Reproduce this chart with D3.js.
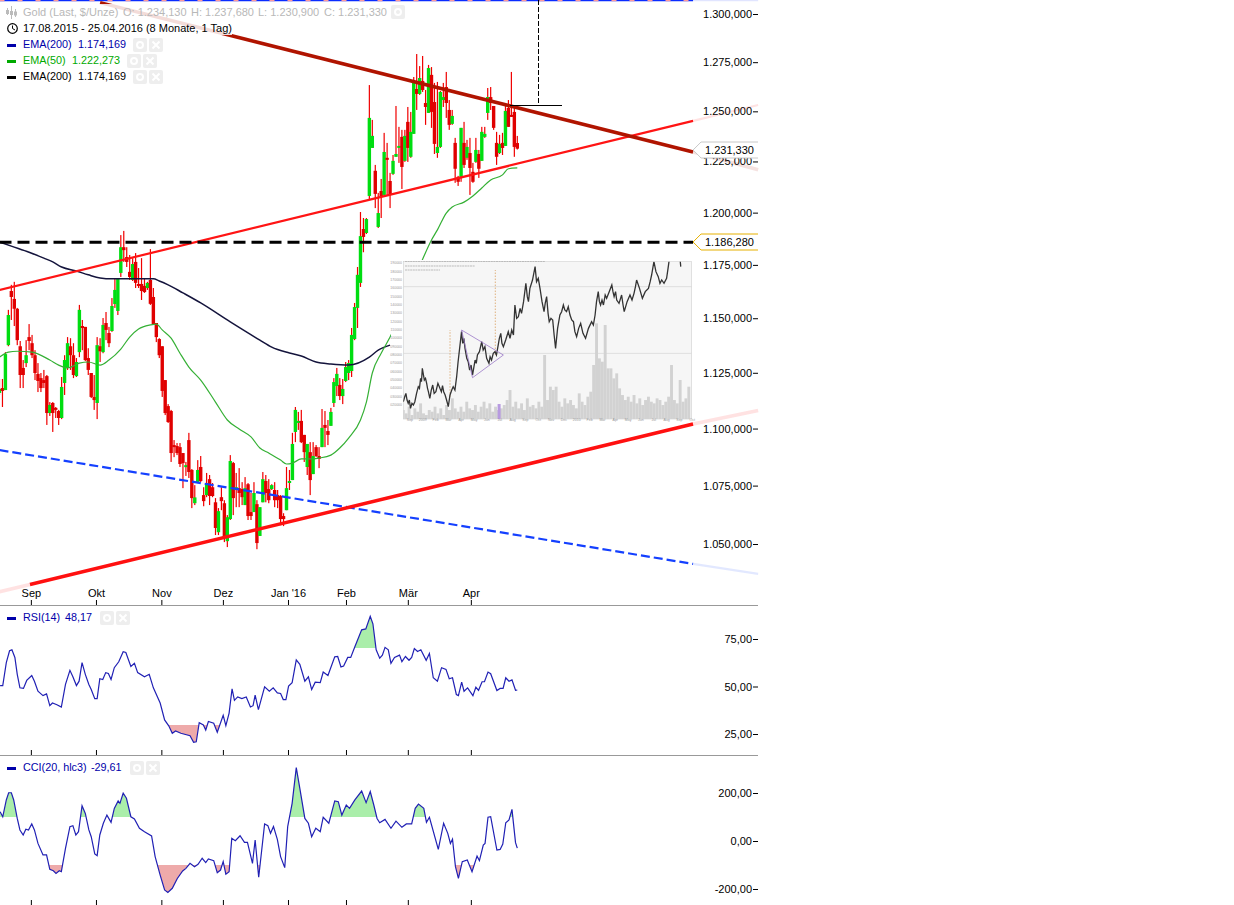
<!DOCTYPE html>
<html>
<head>
<meta charset="utf-8">
<title>Gold</title>
<script src="https://cdn.jsdelivr.net/npm/d3@7"></script>
<style>
    body { margin: 0; background: #fff; }
    svg { display: block; font-family: "Liberation Sans", Arial, sans-serif; font-size: 11px; }
    .axis path { display: none; }
    .axis line { stroke: #000; }
    .axis text { fill: #000; font-size: 11px; }
</style>
</head>
<body>
<svg id="chart" width="1234" height="905"></svg>
<script>
// Candles, one entry per trading day
const highs = [
    1122.2,1122.2,1134.4,1153.9,1165.6,1167,1154.8,1139.5,1130.8,1139.9,
    1147.3,1142.3,1135.3,1129.4,1124.9,1126.3,1124,1111.8,1111.8,1109.6,
    1108.3,1123.1,1133,1141.3,1140.8,1138.5,1131.7,1156.2,1149.2,1146,
    1136.2,1124.9,1124,1141.3,1140.8,1150.1,1152.9,1146,1159.4,1168.4,
    1168.4,1189.2,1191.2,1183.4,1179.7,1178.2,1180.6,1173.5,1178.2,1168.8,
    1167,1182.5,1164.1,1147.8,1140.8,1137.1,1121.7,1110.9,1108.3,1094.9,
    1093.6,1093.6,1089.2,1085.3,1098.1,1082.2,1075.2,1086.1,1087.9,1074.3,
    1080.5,1079.6,1076.1,1069.6,1065.3,1074.3,1068.7,1062.3,1088.3,1085.3,
    1080.5,1082.6,1076.5,1078.7,1076.1,1071.8,1076.5,1068.7,1065.7,1080.9,
    1079.6,1077.8,1075.6,1076.5,1073.1,1070.9,1063.1,1083.1,1081.8,1098.1,
    1109.6,1107.4,1108.3,1097.2,1093.2,1094,1094,1092.7,1091.8,1108.7,
    1107.8,1103.8,1109.2,1122.6,1127.2,1122.6,1122.2,1129.9,1130.8,1145.5,
    1157.1,1174,1200.3,1197.4,1197.4,1263.3,1245.7,1223.3,1209.6,1216.4,
    1239.2,1234.2,1219.4,1228.2,1252.7,1242.2,1240.7,1240.7,1252.2,1249.7,
    1267.4,1279.2,1273,1278.2,1260.8,1273.6,1272.5,1264.4,1264.9,1260.3,
    1264.4,1270,1255.7,1250.7,1236.7,1217.9,1241.7,1244.7,1235.7,1236.7,
    1224.3,1236.7,1230.7,1242.2,1242.2,1261.8,1262.3,1252.7,1239.7,1238.2,
    1239.2,1253.2,1255.7,1270,1252.2,1237.68
];
const opens = [
    1115.9,1118.1,1117.2,1137.6,1162.7,1159,1154.4,1137.1,1127.2,1129.4,
    1141.3,1138.5,1133,1124.5,1122.6,1121.7,1123.5,1106.9,1111.4,1109.2,
    1107.8,1104.7,1120.4,1127.2,1137.1,1133,1123.5,1134.4,1146.4,1146,
    1131.7,1124.9,1114.1,1111.4,1137.1,1134.4,1147.8,1143.2,1144.1,1156.6,
    1153.4,1171.2,1183.4,1178.7,1171.7,1167.9,1176.4,1166,1166,1165.1,
    1164.1,1167.9,1159.9,1147.8,1140.4,1137.1,1121.7,1110,1107.8,1092.7,
    1092.3,1091.8,1089.2,1083.5,1094.9,1081.8,1067.4,1076.5,1083.1,1070.9,
    1070.9,1077.8,1074.3,1067.8,1055,1070,1067.4,1051.2,1060.6,1084.8,
    1073.1,1073.9,1073.5,1066.6,1075.6,1063.6,1063.6,1067,1053.4,1067.8,
    1077,1073.5,1073.5,1073.1,1070.9,1070.5,1061.9,1064.4,1076.5,1077.4,
    1098.5,1102.5,1103.4,1097.2,1083.1,1089.6,1080,1091.8,1087.9,1091.8,
    1101.6,1098.9,1101.2,1111.4,1119,1119.5,1114.5,1121.3,1124.9,1125.8,
    1140.4,1154.8,1166.5,1192.1,1190.2,1208.1,1231.7,1220.4,1193.1,1210.5,
    1208.6,1226.8,1215.4,1218.9,1227.3,1232.2,1237.2,1225.3,1244.7,1227.3,
    1238.7,1261.3,1258.8,1265.4,1254.2,1249.2,1268.5,1254.7,1229.2,1232.2,
    1255.7,1262.3,1250.7,1243.7,1234.2,1217.4,1217.4,1234.2,1226.8,1229.2,
    1219.9,1224.8,1228.7,1225.3,1237.2,1249.2,1257.2,1252.7,1234.2,1229.2,
    1234.2,1232.7,1251.7,1248.2,1249.7,1234.13
];
const closes = [
    1117.7,1116.8,1133.5,1151.5,1159.9,1154.4,1139.9,1124,1124,1133,
    1139.5,1133,1124.9,1121.3,1118.1,1120.4,1106.9,1110.5,1106.9,1108.3,
    1104.7,1118.6,1130.8,1138.5,1133,1124,1129.9,1153.9,1145.5,1130.8,
    1126.3,1114.1,1112.7,1137.6,1134.8,1146.9,1144.6,1138.5,1155.7,1163.2,
    1168.4,1183.4,1182,1176.4,1169.3,1175.4,1166.5,1165.1,1162.7,1162.2,
    1166.5,1156.7,1147.3,1141.3,1133,1116.8,1106.9,1102.9,1089.2,1091.8,
    1089.2,1084.4,1084.8,1083.9,1080.9,1069.6,1069.9,1081.8,1077,1068.3,
    1076.1,1070.5,1070.5,1056.8,1064,1068.3,1053,1061.4,1085.7,1069.6,
    1074.3,1071.8,1070,1073.9,1061.9,1061.9,1071.8,1050.4,1065.7,1077.8,
    1071.8,1068.7,1075.2,1068.7,1068.7,1060.6,1060.6,1073.9,1077,1093.2,
    1108.3,1103.4,1094,1089.6,1093.2,1077.4,1087.9,1087.9,1086.6,1100.3,
    1100.3,1097.2,1107.4,1120.8,1124.5,1114.5,1117.7,1127.6,1129.4,1142.3,
    1155.2,1170.3,1188.7,1188.3,1196.9,1246.7,1237.7,1209.1,1199.8,1207.6,
    1229.7,1225.8,1208.6,1225.3,1228.7,1232.7,1222.3,1237.7,1231.7,1239.7,
    1264.4,1258.8,1266.9,1260.8,1252.2,1272,1249.7,1233.7,1232.2,1259.8,
    1257.2,1254.2,1243.2,1247.7,1221.4,1215,1241.7,1223.3,1232.2,1221.8,
    1215,1230.7,1221.4,1239.7,1238.7,1257.2,1254.2,1241.7,1227.3,1233.7,
    1231.7,1250.2,1242.2,1247.2,1232.2,1231.33
];
const lows = [
    1115,1109.6,1117.2,1137.1,1149.2,1146.4,1137.6,1118.1,1118.1,1127.6,
    1135.3,1131.7,1121.7,1116.3,1116.3,1118.1,1101.6,1105.6,1098.5,1104.7,
    1101.6,1104.2,1115,1126.3,1126.3,1122.6,1123.1,1132.1,1135.3,1130.3,
    1124,1113.6,1108.3,1104.2,1129.9,1133.9,1139.9,1136.7,1143.7,1154.8,
    1151.5,1169.3,1176.4,1174,1167.9,1167.4,1164.1,1164.1,1158.5,1161.8,
    1163.2,1156.2,1146.9,1139,1131.7,1114.1,1106,1102.5,1085.3,1087.4,
    1088.3,1083.1,1073.9,1079.2,1078.3,1065.3,1066.6,1076.1,1076.5,1066.1,
    1070,1066.6,1070,1053.8,1053.8,1064.4,1050.8,1048.7,1060.2,1062.3,
    1065.7,1065.7,1066.6,1066.6,1060.2,1060.2,1063.6,1047.8,1053.4,1067.8,
    1067.8,1067.4,1073.1,1065.7,1065.3,1058,1057.6,1064.4,1073.1,1077.4,
    1094,1099.4,1093.6,1085.3,1079.6,1070.9,1080,1087.4,1082.6,1091.8,
    1091.8,1092.7,1101.2,1109.6,1114.5,1112.7,1110.9,1120.8,1121.7,1123.1,
    1139.9,1145.5,1164.6,1181,1189.7,1206.1,1231.7,1202.2,1192.6,1197.4,
    1208.1,1208.6,1202.2,1218.4,1227.3,1224.3,1211.5,1224.8,1224.8,1226.8,
    1238.7,1250.7,1258.3,1259.8,1243.2,1249.2,1241.7,1228.7,1226.8,1231.7,
    1252.2,1246.7,1240.7,1243.2,1214.5,1213,1215,1221.8,1225.8,1208.6,
    1214.5,1224.3,1216.9,1225.3,1236.7,1245.7,1250.7,1240.7,1223.3,1228.7,
    1228.2,1232.7,1242.2,1247.2,1227.3,1230.9
];

// Moving averages, read at the bars where they could be seen
const ema50Bars = [0,3,6,11,17,20,23,27,30,34,37,41,44,47,51,53,55,58,61,64,68,73,77,81,85,88,91,95,97,99,102,105,108,112,115,118,122,124,126,129,132,143,146,148,151,153,157,160,163,166,170,172,175];
const ema50Values = [1132.1,1134.4,1134.8,1134.4,1130.8,1128.5,1127.2,1129.4,1129.9,1128.5,1130.8,1135.8,1141.3,1145,1146.9,1147.3,1144.6,1140.8,1133.9,1127.6,1121.7,1111.8,1103.8,1099.8,1096.3,1091.4,1089.2,1086.1,1084.4,1084.8,1086.6,1086.6,1087,1088.3,1091.4,1095.8,1103.8,1111.8,1124.9,1133.9,1141.3,1177.7,1186.8,1191.7,1199.8,1202.7,1205.1,1208.1,1212,1215.9,1218.4,1221.4,1221.8];
const ema200Bars = [0,4,10,15,18,21,26,30,34,38,43,47,52,54,57,62,68,78,88,92,98,102,107,112,118,125,128,132];
const ema200Values = [1185.9,1183.9,1181,1178.2,1176.4,1174,1172.1,1170.3,1168.8,1168.4,1168.4,1168.4,1168.4,1167.4,1165.6,1161.8,1157.1,1148.3,1139.9,1136.7,1134,1132.6,1129.9,1129,1128.5,1132.1,1135.3,1137.6];

// Trend lines as [bar, price] end points, drawn solid up to lastBar and pale beyond
const lastBar = 234.4;
const farBar = 256.4;
const resistance = [[34, 1306], [lastBar, 1229.7], [farBar, 1220.9]];
const upperSupport = [[0, 1163.2], [lastBar, 1245.2], [farBar, 1253.2]];
const lowerSupport = [[10.3, 1033], [lastBar, 1102], [farBar, 1108]];
const lowerSupportStart = [0, 1030];
const blueTrend = [[0, 1090.5], [lastBar, 1041.6], [farBar, 1037.4]];
const topLevel = 1307.4;
const goldLevel = 1186.28;
const lastClose = 1231.33;
const targetBar = 182;
const targetPrice = 1252.7;
const targetFrom = 172.5;
const targetTo = 190;

// RSI and CCI panels
const rsiBars = [0.2,1.1,2.3,3.4,4.2,5.2,6,6.9,8.1,9.2,10.9,11.8,13,14.7,15.9,17,17.9,19.4,20.9,22.3,23.8,24.8,26,26.9,27.9,29,30.2,31,32.2,33,33.9,34.9,35.9,36.8,37.7,38.8,40.3,41.8,42.7,44.4,45.6,46.7,49,50.6,52,54.3,55.8,57.2,58.4,59.5,61.3,64.4,65.6,66.5,67.5,68.9,69.7,70.6,72.4,73.6,75.6,76.5,77.6,78.6,79.4,80.5,81.9,83.4,84.8,85.7,86.4,87.5,89.6,91.2,92.5,93.9,95,95.9,96.8,97.7,98.9,100.3,101.5,103.2,104.4,105.5,106.7,108.4,109.4,111,113.3,114.3,115.4,116.3,117.7,118.7,120.1,122.4,123.8,125.3,126.2,127.3,128.5,129.4,130.3,131.4,132.3,133.5,135.2,136,137.2,138.4,139.3,140.2,141.3,142.4,144.2,145.3,146.6,148,149.4,150.9,152,153.1,154.4,155.1,156.2,157,158.2,160,161,161.9,163.1,163.9,165.1,166,168.1,169.2,170.2,171.1,172.2,173.2,174.4,175];
const rsiValues = [50.5,50.5,62.6,68.8,69.3,65.3,56.4,49.3,49,53.2,55.8,52.8,47.5,45.2,46.1,39.9,41.3,40.4,39.2,51.1,58.5,55.1,50.5,52.8,62.6,56.4,51.1,48.4,43.6,43.6,54.1,53.7,57.3,56.9,53.7,59.9,63,68.3,67.9,60.5,62.2,57.3,55.1,56.4,49.3,41.3,32.4,29.3,25.4,26.6,25.4,24.1,20.6,20.9,31,29.8,27.1,31.6,30.7,25.9,34.8,29.4,36,48.8,42.7,44.5,43.6,44.5,39.2,39.9,45.4,37.8,49.8,47.5,49.3,46.6,46.3,43.1,43.1,50.2,52,64,61.7,52.8,55.1,48.4,52.3,52,57.6,55.8,65.6,65.8,60.3,60.8,65.3,65.3,70.9,79.8,80.3,86.9,83,69.3,64.9,66.5,70.6,69.3,62.2,65.3,66.5,63.1,65.8,63.8,65.3,70,68.4,69.3,63.8,67.4,54.6,52.8,59.9,59,54.1,54.6,45.8,45.2,52.3,47.5,49.3,45.2,49.6,48,52.5,52.5,57.6,56.7,47.9,49,49,54.6,52.8,53.5,48,48.17];
const cciBars = [0.2,1.1,2.3,3.1,4,4.8,6,6.9,8,8.9,9.8,10.9,11.8,13,14.7,15.9,17,18.2,19.1,20.2,20.9,22.3,23.8,24.8,25.8,26.7,27.9,29,30.2,31,32.2,33,33.9,35.1,36.3,37.7,38.8,40.1,40.7,41.8,42.9,44.4,45.6,47.3,49,51.4,52.6,54.3,55.8,56.9,58.4,60.1,61.9,63,64.4,65.9,67.1,68.5,69.7,70.6,72.4,73.6,74.7,75.6,76.5,77.6,78.5,79.7,81.3,82.8,83.8,85.5,86.4,87.6,89.6,90.7,91.6,92.6,93.9,95,96.4,97.4,98.9,100.3,101.5,103.2,104.4,105.5,106.9,108.4,109.4,111.3,113.3,114.5,115.7,117.2,118.3,120.1,122.4,123.9,125.3,126.5,127.6,128.5,130.3,132.3,134,136,137.5,139.3,140.5,141.6,143.4,144.3,145.3,148.3,150.1,151.5,152.4,153.1,154.1,155.1,156.4,158.1,159.7,161.4,162.2,163.5,164.1,165.1,166,168.1,169.2,170.1,171.1,172.2,173.2,174.4,175];
const cciValues = [122,101,171,201,201,171,94,46,25,49,46,71,46,-10,-58,-58,-118,-124,-135,-124,-128,-31,60,64,25,39,147,115,46,18,-54,-61,25,74,108,78,136,167,157,199,178,101,92,53,39,21,-65,-142,-204,-214,-197,-156,-125,-114,-93,-107,-97,-72,-90,-75,-82,-132,-121,-86,-138,-128,11,1,22,-6,-6,-93,4,-151,71,64,32,60,7,-65,-111,60,157,306,219,94,74,18,53,39,99,74,167,164,108,150,136,171,208,160,206,150,94,76,90,53,83,57,71,71,136,154,136,78,99,-35,74,32,-10,8,-107,-156,-86,-79,-128,-63,-82,-17,-10,99,101,-38,-35,-13,76,88,132,-7,-29.61];

// Axis labels
const monthBars = [10.6, 32.6, 54.7, 75.5, 97.5, 117.1, 138, 159.3];
const monthLabels = ['Sep', 'Okt', 'Nov', 'Dez', "Jan '16", 'Feb', 'Mär', 'Apr'];
const priceTicks = [1050, 1075, 1100, 1125, 1150, 1175, 1200, 1225, 1250, 1275, 1300];
const rsiTicks = [25, 50, 75];
const cciTicks = [-200, 0, 200];

// Small pasted chart, positions and values both on a 0-100 scale
const insetPos = [0,0.5,0.9,1.3,1.7,2.1,2.5,3,3.5,4,4.6,5.2,5.6,6,6.3,6.6,7,7.3,7.7,8.1,8.4,8.7,9.2,9.7,10.2,10.7,11.3,12,12.7,13.2,13.6,14,14.5,15,15.6,16.2,16.8,17.3,17.9,18.5,19,19.6,20.2,20.6,21,21.4,22,22.5,23,23.5,24,24.5,24.9,25.3,25.7,26.4,27.2,27.7,28.3,28.9,29.7,30.1,30.6,31.2,31.8,32.3,32.9,33.3,33.8,34.2,34.7,35.5,36.4,37,37.6,38.2,38.7,39.3,39.9,40.5,41,41.7,42.5,43,43.4,43.9,44.8,45.7,46.2,46.8,47.4,48.1,48.8,49.2,49.7,50.2,50.6,51.2,51.8,52.3,52.8,53.5,54.3,54.9,55.5,56,56.6,57.2,57.8,58.4,59,59.5,60.1,60.8,61.5,62.3,63.2,64.2,65.3,65.9,66.5,67,67.6,68,68.4,68.9,69.4,70,70.5,71.4,72.3,72.7,73.1,73.6,74,74.8,75.7,76.2,76.6,77.6,78.6,79.3,80,80.5,80.9,81.9,82.9,83.9,85,85.6,86.1,86.9,87.6,88.4,89,89.6,90.4,91.3,91.8,92.2,93.6,95.7,96,96.2];
const insetValue = [12,15,17,13,11,13,8,11,10,12,17,21,20,26,24,32,28,25,26,23,20,18,14,19,22,17,18,23,20,18,21.6,18,16,13,9,16,19,21,19,27,36,45,54,47,50,44,38,36,31,34,28,33,37,35,40,42,48,43,45,38,35,39,37,41,42,40,46,50,53,47,45,49,54,50,55,52,70,62,63,68,65,72,83,75,72,80,85,93,84,86,80,72,66,71,75,65,60,62,61,52,44,56,64,66,70,67,66,69,64,61,60,54,51,56,59,53,50,56,60,58,64,72,78,72,70,73,70,76,74,78,82,78,75,78,73,71,76,70,66,72,76,73,77,81,85,80,74,78,80,84,88,96,90,87,83,85,83,86,92,97,101,101,97,93];
const insetVolume = [7,5,9,4,8,6,11,5,4,7,6,9,5,8,4,10,7,14,8,6,9,6,12,8,7,10,6,9,12,8,11,6,9,7,8,10,13,19,9,12,8,11,7,14,9,10,8,12,9,40,13,21,19,21,12,9,14,11,13,10,8,17,12,10,15,18,34,59,38,36,58,32,32,26,29,20,16,13,15,12,16,11,14,10,13,15,12,11,14,13,10,12,15,34,13,11,25,12,14,21];
const insetTriangle = [[20.2, 55], [34.7, 40], [24, 26.4]];
const insetGuides = [[16.2, 15, 55], [31.9, 40, 91]];
const insetGrid = [41, 81];
const insetMonths = ['Sep', '2009', 'Feb', 'Mar', 'Apr', 'May', 'Jun', 'Jul', 'Aug', 'Sep', 'Oct', 'Nov', 'Dec', '2010', 'Feb', 'Mar', 'Apr', 'May', 'Jun', 'Jul', 'Aug', 'Sep', 'Oct'];
const insetLevels = [95, 90, 85, 80, 75, 70, 65, 60, 55, 50, 45, 40, 35, 30, 25, 20, 15, 10];

const svg = d3.select('#chart');
const germanLocale = d3.formatLocale({ decimal: ',', thousands: '.', grouping: [3], currency: ['', ''], minus: '-' });
const priceFormat = germanLocale.format(',.3f');
const panelFormat = germanLocale.format('.2f');

// Scales
const x = d3.scaleLinear().domain([0, 175]).range([-0.5, 517.3]);
const y = d3.scaleLog().domain([1050, 1300]).range([544, 14]);
const yRsi = d3.scaleLinear().domain([25, 75]).range([734, 639]);
const yCci = d3.scaleLinear().domain([-200, 200]).range([889, 793]);

function drawCandles() {
    const g = svg.append('g');
    const bars = d3.range(highs.length);
    g.selectAll('rect.wick').data(bars).enter().append('rect')
        .attr('class', 'wick')
        .attr('x', i => x(i) - 0.6)
        .attr('width', 1.2)
        .attr('y', i => y(highs[i]))
        .attr('height', i => y(lows[i]) - y(highs[i]))
        .attr('fill', '#f00000');
    g.selectAll('rect.body').data(bars).enter().append('rect')
        .attr('class', 'body')
        .attr('x', i => x(i) - 1.7)
        .attr('width', 3.4)
        .attr('y', i => y(Math.max(opens[i], closes[i])))
        .attr('height', i => Math.max(2, Math.abs(y(opens[i]) - y(closes[i]))))
        .attr('fill', i => closes[i] >= opens[i] ? '#00dd11' : '#e00000');
}

function drawEma(bars, values, color, width) {
    const line = d3.line().x(d => x(d[0])).y(d => y(d[1])).curve(d3.curveMonotoneX);
    svg.append('path')
        .attr('d', line(d3.zip(bars, values)))
        .attr('fill', 'none')
        .attr('stroke', color)
        .attr('stroke-width', width);
}

function drawInset() {
    const ix = d3.scaleLinear().domain([0, 100]).range([403.3, 691.7]);
    const iy = d3.scaleLinear().domain([0, 100]).range([421.7, 255]);
    const g = svg.append('g');

    g.append('rect').attr('x', 391).attr('y', 260).attr('width', 302).attr('height', 162).attr('fill', '#fff');
    g.append('rect').attr('x', ix(0)).attr('y', iy(96)).attr('width', ix(100) - ix(0)).attr('height', iy(1.6) - iy(96))
        .attr('fill', '#f6f6f6').attr('stroke', '#c8c8c8').attr('stroke-width', 0.5);

    svg.append('clipPath').attr('id', 'inset-clip').append('rect')
        .attr('x', ix(0)).attr('y', iy(96)).attr('width', ix(100) - ix(0)).attr('height', iy(1.6) - iy(96));
    const plot = g.append('g').attr('clip-path', 'url(#inset-clip)');

    plot.selectAll('line.grid').data(insetGrid).enter().append('line')
        .attr('class', 'grid')
        .attr('x1', ix(0)).attr('x2', ix(100))
        .attr('y1', d => iy(d)).attr('y2', d => iy(d))
        .attr('stroke', '#d4d4d4').attr('stroke-width', 0.7);

    plot.selectAll('rect.vol').data(insetVolume).enter().append('rect')
        .attr('class', 'vol')
        .attr('x', (d, i) => ix(i) - 1.45)
        .attr('width', 2.9)
        .attr('y', d => iy(d))
        .attr('height', d => iy(1.6) - iy(d))
        .attr('fill', '#d2d2d2');

    // highlighted volume bar
    plot.append('rect').attr('x', ix(32.7)).attr('width', 3).attr('y', iy(10.6)).attr('height', iy(1.6) - iy(10.6)).attr('fill', '#b79ae0');

    plot.selectAll('line.guide').data(insetGuides).enter().append('line')
        .attr('class', 'guide')
        .attr('x1', d => ix(d[0])).attr('x2', d => ix(d[0]))
        .attr('y1', d => iy(d[1])).attr('y2', d => iy(d[2]))
        .attr('stroke', '#d9a060').attr('stroke-width', 0.8).attr('stroke-dasharray', '1.5,1.5');

    const line = d3.line().x(d => ix(d[0])).y(d => iy(d[1]));
    plot.append('path')
        .attr('d', line(d3.zip(insetPos, insetValue)))
        .attr('fill', 'none').attr('stroke', '#333').attr('stroke-width', 1.3);
    plot.append('path')
        .attr('d', line(insetTriangle) + 'Z')
        .attr('fill', 'none').attr('stroke', '#9a78c8').attr('stroke-width', 0.8);

    // header of the small chart, too small to read, just pale strokes
    [[261.5, 405, 545], [266, 405, 475], [270, 405, 440]].forEach(d => {
        g.append('line').attr('x1', d[1]).attr('x2', d[2]).attr('y1', d[0]).attr('y2', d[0])
            .attr('stroke', '#bbb').attr('stroke-width', 1).attr('stroke-dasharray', '2,0.6');
    });

    // tiny labels around the small chart
    g.selectAll('text.level').data(insetLevels).enter().append('text')
        .attr('class', 'level')
        .attr('x', 402).attr('y', d => iy(d) + 1)
        .attr('text-anchor', 'end')
        .attr('font-size', 3.5).attr('fill', '#999')
        .text(d => d3.format('06d')(d * 2000));
    g.selectAll('text.month').data(insetMonths).enter().append('text')
        .attr('class', 'month')
        .attr('x', (d, i) => ix(i * 4.45 + 2.3))
        .attr('y', 421)
        .attr('text-anchor', 'middle')
        .attr('font-size', 3.5).attr('fill', '#999')
        .text(d => d);
}

// solid up to lastBar, then pale to the right edge
function drawTrend(points, color, width, dash) {
    const line = d3.line().x(d => x(d[0])).y(d => y(d[1]));
    svg.append('path')
        .attr('d', line(points.slice(1)))
        .attr('fill', 'none').attr('stroke', color).attr('stroke-width', width).attr('opacity', 0.12);
    svg.append('path')
        .attr('d', line(points.slice(0, 2)))
        .attr('fill', 'none').attr('stroke', color).attr('stroke-width', width)
        .attr('stroke-dasharray', dash || null);
}

function drawTrendLines() {
    const line = d3.line().x(d => x(d[0])).y(d => y(d[1]));

    svg.append('path')
        .attr('d', line([[0, topLevel], [lastBar, topLevel]]))
        .attr('fill', 'none').attr('stroke', '#0a2cff').attr('stroke-width', 2.5);
    svg.append('path')
        .attr('d', line([[0, topLevel], [lastBar, topLevel]]))
        .attr('fill', 'none').attr('stroke', '#ff9a9a').attr('stroke-width', 2.5).attr('stroke-dasharray', '5,13');
    svg.append('path')
        .attr('d', line([[lastBar, topLevel], [farBar, topLevel]]))
        .attr('fill', 'none').attr('stroke', '#0a2cff').attr('stroke-width', 2.5).attr('opacity', 0.12);

    drawTrend(blueTrend, '#1440ff', 2.2, '9,4');
    drawTrend(upperSupport, '#ff1414', 2.2);
    drawTrend(lowerSupport, '#ff1010', 3.5);
    svg.append('path')
        .attr('d', line([lowerSupportStart, lowerSupport[0]]))
        .attr('fill', 'none').attr('stroke', '#ff1010').attr('stroke-width', 3.5).attr('opacity', 0.12);
    drawTrend(resistance, '#b01400', 3.5);

    // gold level, the chart draws it a pixel under the scale position
    const goldY = y(goldLevel) + 1;
    svg.append('line')
        .attr('x1', x(0)).attr('x2', x(lastBar)).attr('y1', goldY).attr('y2', goldY)
        .attr('stroke', '#000').attr('stroke-width', 3).attr('stroke-dasharray', '12,6');

    // price target marker
    svg.append('path')
        .attr('d', line([[targetBar, topLevel], [targetBar, targetPrice]]))
        .attr('fill', 'none').attr('stroke', '#000').attr('stroke-width', 1).attr('stroke-dasharray', '5,2')
        .attr('shape-rendering', 'crispEdges');
    svg.append('path')
        .attr('d', line([[targetFrom, targetPrice], [targetTo, targetPrice]]))
        .attr('fill', 'none').attr('stroke', '#000').attr('stroke-width', 1)
        .attr('shape-rendering', 'crispEdges');
}

function drawPriceTag(price, stroke) {
    const py = Math.round(y(price)) + 1;
    const left = x(lastBar);
    svg.append('path')
        .attr('d', d3.line()([[758, py - 8], [left + 8, py - 8], [left, py], [left + 8, py + 8], [758, py + 8]]))
        .attr('fill', '#fff').attr('stroke', stroke);
    svg.append('text').attr('x', 705).attr('y', py + 4).attr('fill', '#000').text(priceFormat(price));
}

function drawPanel(bars, values, scale, upper, lower, id) {
    const points = d3.zip(bars, values);
    const area = level => d3.area().x(d => x(d[0])).y0(scale(level)).y1(d => scale(d[1]))(points);
    const upperY = Math.floor(scale(upper));
    const lowerY = Math.ceil(scale(lower));

    // only the parts beyond the levels get filled
    svg.append('clipPath').attr('id', id + '-up').append('rect')
        .attr('x', 0).attr('width', 758).attr('y', upperY - 60).attr('height', 60);
    svg.append('clipPath').attr('id', id + '-down').append('rect')
        .attr('x', 0).attr('width', 758).attr('y', lowerY).attr('height', 60);
    svg.append('path').attr('d', area(upper)).attr('fill', '#aaeeaa').attr('clip-path', `url(#${id}-up)`);
    svg.append('path').attr('d', area(lower)).attr('fill', '#eeaaaa').attr('clip-path', `url(#${id}-down)`);

    svg.append('path')
        .attr('d', d3.line().x(d => x(d[0])).y(d => scale(d[1]))(points))
        .attr('fill', 'none').attr('stroke', '#2020b4').attr('stroke-width', 1.2);
}

function drawAxes() {
    const priceAxis = d3.axisLeft(y).tickValues(priceTicks).tickFormat(priceFormat).tickSize(5).tickPadding(1);
    svg.append('g').attr('class', 'axis').attr('transform', 'translate(758,0)').call(priceAxis);

    svg.append('g').attr('class', 'axis').attr('transform', 'translate(758,0)')
        .call(d3.axisLeft(yRsi).tickValues(rsiTicks).tickFormat(panelFormat).tickSize(5).tickPadding(1));
    svg.append('g').attr('class', 'axis').attr('transform', 'translate(758,0)')
        .call(d3.axisLeft(yCci).tickValues(cciTicks).tickFormat(panelFormat).tickSize(5).tickPadding(1));

    const timeAxis = d3.axisTop(x).tickValues(monthBars).tickSize(5).tickPadding(3)
        .tickFormat((d, i) => monthLabels[i]);
    svg.append('g').attr('class', 'axis').attr('transform', 'translate(0,605)').call(timeAxis);
    const bareAxis = d3.axisTop(x).tickValues(monthBars).tickSize(5).tickFormat('');
    svg.append('g').attr('class', 'axis').attr('transform', 'translate(0,755)').call(bareAxis);
    svg.append('g').attr('class', 'axis').attr('transform', 'translate(0,905)').call(bareAxis);

    [605, 755].forEach(py => {
        svg.append('line').attr('x1', 0).attr('x2', 758).attr('y1', py + 0.5).attr('y2', py + 0.5)
            .attr('stroke', '#999');
    });
}

function drawButton(bx, by) {
    const g = svg.append('g').attr('transform', `translate(${bx},${by})`);
    g.append('rect').attr('width', 14).attr('height', 14).attr('rx', 2).attr('fill', '#eeeeee');
    return g;
}

function drawButtons(px, py) {
    drawButton(px, py).append('circle').attr('cx', 7).attr('cy', 7).attr('r', 3)
        .attr('fill', 'none').attr('stroke', '#fff').attr('stroke-width', 2);
    drawButton(px + 16, py).append('path').attr('d', 'M3.5,3.5L10.5,10.5M10.5,3.5L3.5,10.5')
        .attr('stroke', '#fff').attr('stroke-width', 2);
}

function legendRow(py, name, value, valueX, color, buttonsX) {
    svg.append('rect').attr('x', 7).attr('y', py - 3).attr('width', 9).attr('height', 3).attr('fill', color);
    svg.append('text').attr('x', 23).attr('y', py + 1).attr('fill', color).attr('font-size', 10.8).text(name);
    svg.append('text').attr('x', valueX).attr('y', py + 1).attr('fill', color).attr('font-size', 10.8).text(value);
    drawButtons(buttonsX, py - 9);
}

function drawLegend() {
    svg.append('rect').attr('x', 0).attr('y', 4).attr('width', 232).attr('height', 31).attr('fill', '#fff').attr('opacity', 0.85);

    // instrument row
    const icon = svg.append('g').attr('stroke', '#bbb').attr('fill', 'none');
    [[7, 8, 15], [11, 6, 19], [15, 9, 17]].forEach(d => {
        icon.append('line').attr('x1', d[0] + 0.5).attr('x2', d[0] + 0.5).attr('y1', d[1]).attr('y2', d[2]);
        icon.append('rect').attr('x', d[0] - 0.5).attr('y', (d[1] + d[2]) / 2 - 1).attr('width', 2).attr('height', 3);
    });
    const rowOne = [['Gold (Last, $/Unze)', 23], ['O: 1.234,130', 123], ['H: 1.237,680', 191], ['L: 1.230,900', 258], ['C: 1.231,330', 324]];
    svg.selectAll('text.head').data(rowOne).enter().append('text')
        .attr('class', 'head')
        .attr('x', d => d[1]).attr('y', 16).attr('fill', '#b8b8b8')
        .text(d => d[0]);
    drawButton(391, 5).append('circle').attr('cx', 7).attr('cy', 7).attr('r', 3)
        .attr('fill', 'none').attr('stroke', '#fff').attr('stroke-width', 2);

    // date range row
    svg.append('circle').attr('cx', 12.5).attr('cy', 28.5).attr('r', 4.8).attr('fill', 'none').attr('stroke', '#000').attr('stroke-width', 1.2);
    svg.append('path').attr('d', 'M12.5,25.5V28.5L15,30').attr('fill', 'none').attr('stroke', '#000');
    svg.append('text').attr('x', 23).attr('y', 32).attr('fill', '#000')
        .text('17.08.2015 - 25.04.2016 (8 Monate, 1 Tag)');

    legendRow(47, 'EMA(200)', '1.174,169', 78, '#0000aa', 133);
    legendRow(63, 'EMA(50)', '1.222,273', 72, '#00aa00', 127);
    legendRow(79, 'EMA(200)', '1.174,169', 78, '#000000', 133);

    legendRow(620, 'RSI(14)', '48,17', 65, '#0000aa', 100);
    legendRow(770, 'CCI(20, hlc3)', '-29,61', 91, '#0000aa', 130);
}

function drawChart() {
    drawCandles();
    drawEma(ema200Bars, ema200Values, '#14143c', 1.5);
    drawEma(ema50Bars, ema50Values, '#35b035', 1.2);
    drawInset();
    drawTrendLines();
    drawAxes();
    drawPriceTag(lastClose, '#c8c8c8');
    drawPriceTag(goldLevel, '#e6b000');
    drawPanel(rsiBars, rsiValues, yRsi, 70, 30, 'rsi');
    drawPanel(cciBars, cciValues, yCci, 100, -100, 'cci');
    drawLegend();
}

drawChart();
</script>
</body>
</html>
